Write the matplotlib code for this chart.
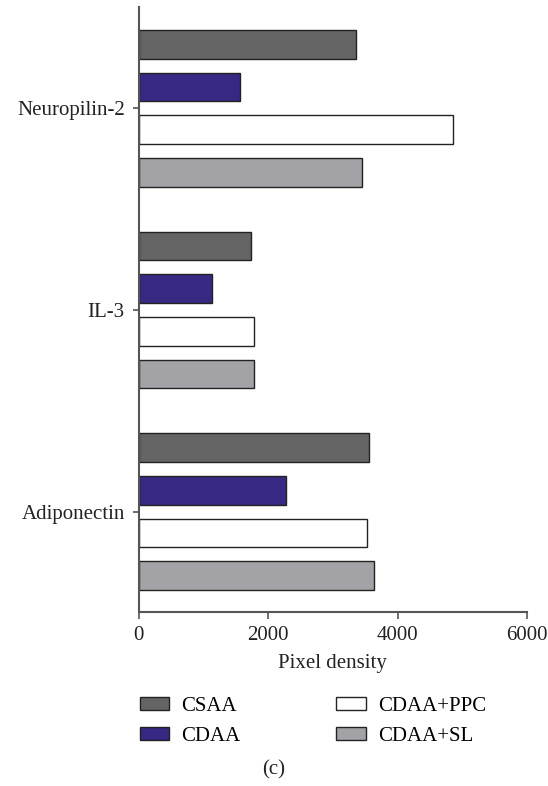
import numpy as np
import matplotlib
matplotlib.use('Agg')
import matplotlib.pyplot as plt
from matplotlib.patches import Patch

plt.rcParams['font.family'] = ['Liberation Serif', 'DejaVu Serif']

# data
proteins = ['Neuropilin-2', 'IL-3', 'Adiponectin']
groups = ['CSAA', 'CDAA', 'CDAA+PPC', 'CDAA+SL']
csaa = [3360, 1740, 3555]
cdaa = [1560, 1125, 2280]
cdaa_ppc = [4860, 1785, 3530]
cdaa_sl = [3450, 1785, 3640]
colors = ['#646464', '#372883', '#ffffff', '#a3a2a6']
xticks = [0, 2000, 4000, 6000]

fig = plt.figure(figsize=(5.48, 7.86), dpi=100)
ax = fig.add_axes([0.2531, 0.2218, 0.7086, 0.7689])

pitch = 0.2117
height = 0.1423
pos = np.arange(len(proteins))
series = [csaa, cdaa, cdaa_ppc, cdaa_sl]
for i, vals in enumerate(series):
    off = (i - 1.5) * pitch
    ax.barh(pos + off, vals, height=height, color=colors[i],
            edgecolor='#222222', linewidth=1.0, label=groups[i])

ax.set_ylim(2.497, -0.502)
ax.set_xlim(0, 6000)
ax.set_yticks(pos)
ax.set_yticklabels(proteins)
ax.set_xticks(xticks)
ax.set_xticklabels([str(t) for t in xticks])
ax.set_xlabel('Pixel density', fontsize=15, labelpad=7, color='#222222')

for s in ['top', 'right']:
    ax.spines[s].set_visible(False)
for s in ['left', 'bottom']:
    ax.spines[s].set_color('#555555')
    ax.spines[s].set_linewidth(1.5)
ax.tick_params(axis='both', colors='#555555', width=1.2, length=5, labelsize=15,
               labelcolor='#222222')
ax.tick_params(axis='x', pad=5)
ax.tick_params(axis='y', length=4, pad=6)

handles = [Patch(facecolor=colors[i], edgecolor='#222222', linewidth=1.0, label=groups[i])
           for i in range(4)]
fig.legend(handles=handles, loc='upper left', bbox_to_anchor=(0.236, 0.127),
           ncol=2, frameon=False, fontsize=15, handlelength=1.4, handleheight=0.6,
           handletextpad=0.6, columnspacing=4.6, labelspacing=0.55, borderpad=0)

fig.text(0.5, 0.008, '(c)', ha='center', va='bottom', fontsize=15, color='#222222')

plt.savefig('out.png', dpi=100)
